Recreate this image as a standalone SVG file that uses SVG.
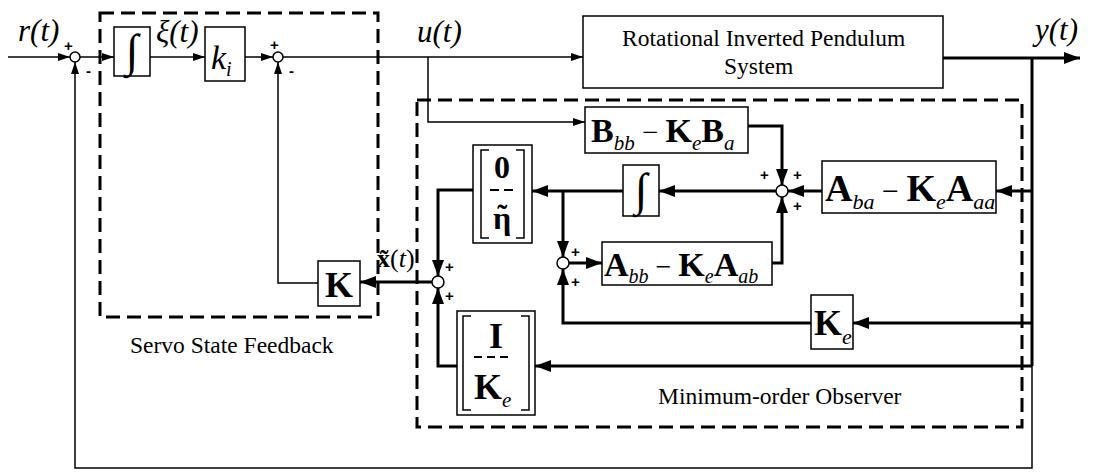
<svg xmlns="http://www.w3.org/2000/svg" width="1094" height="472" viewBox="0 0 1094 472">
<style>
.ln{fill:none;stroke:#000;stroke-width:1.5}
.tk{fill:none;stroke:#000;stroke-width:3}
.box{fill:#fff;stroke:#000;stroke-width:1.5}
.dash{fill:none;stroke:#000;stroke-width:3;stroke-dasharray:14 7}
.sum{fill:#fff;stroke:#000;stroke-width:1.5}
.lbl{font-family:"Liberation Serif","Times New Roman",serif;font-size:23.5px;fill:#000}
.math{font-family:"Liberation Serif","Times New Roman",serif;font-style:italic;font-size:31px;fill:#000}
.sg{font-family:"Liberation Sans",Arial,sans-serif;font-size:15px;font-weight:bold;fill:#000}
.mb{font-family:"Liberation Serif","Times New Roman",serif;font-weight:bold;fill:#000}
.mi{font-family:"Liberation Serif","Times New Roman",serif;font-style:italic;font-weight:normal}
.mr{font-family:"Liberation Serif","Times New Roman",serif;font-weight:normal;font-style:normal}
.brk{fill:none;stroke:#000;stroke-width:1.5}
</style>
<defs>
<marker id="as" viewBox="0 0 12 8" refX="12" refY="4" markerWidth="12" markerHeight="8" markerUnits="userSpaceOnUse" orient="auto"><path d="M0,0 L12,4 L0,8 z" fill="#000"/></marker>
<marker id="al" viewBox="0 0 16 12" refX="16" refY="6" markerWidth="16" markerHeight="12" markerUnits="userSpaceOnUse" orient="auto"><path d="M0,0 L16,6 L0,12 z" fill="#000"/></marker>
</defs>

<g id="frames">
<rect class="dash" x="100" y="13" width="278" height="304"/>
<rect class="dash" x="417" y="100" width="605" height="327"/>
<text class="lbl" x="130" y="353">Servo State Feedback</text>
<text class="lbl" x="658" y="404">Minimum-order Observer</text>
</g>

<g id="connectors">
<path class="ln" d="M8,57 H70" marker-end="url(#as)"/>
<path class="ln" d="M80,57 H114" marker-end="url(#as)"/>
<path class="ln" d="M150,57 H205" marker-end="url(#as)"/>
<path class="ln" d="M245,57 H273" marker-end="url(#as)"/>
<path class="ln" d="M283,57 H583" marker-end="url(#as)"/>
<path class="tk" d="M943,58 H1080" marker-end="url(#al)"/>
<path class="tk" d="M1032,58 V366"/>
<path class="ln" d="M1032,366 V468 H75 V62" marker-end="url(#as)"/>
<path class="ln" d="M428,57 V122 H585" marker-end="url(#as)"/>
<path class="tk" d="M748,126 H782 V185" marker-end="url(#al)"/>
<path class="tk" d="M1032,191 H996" marker-end="url(#al)"/>
<path class="tk" d="M822,191 H788" marker-end="url(#al)"/>
<path class="tk" d="M776,191 H659" marker-end="url(#al)"/>
<path class="tk" d="M623,191 H532" marker-end="url(#al)"/>
<path class="tk" d="M563,191 V257" marker-end="url(#al)"/>
<path class="tk" d="M569,263 H602" marker-end="url(#al)"/>
<path class="tk" d="M772,263 H782 V197" marker-end="url(#al)"/>
<path class="tk" d="M1032,323 H853" marker-end="url(#al)"/>
<path class="tk" d="M811,323 H563 V269" marker-end="url(#al)"/>
<path class="tk" d="M1032,366 H535" marker-end="url(#al)"/>
<path class="tk" d="M457,366 H438 V288" marker-end="url(#al)"/>
<path class="tk" d="M473,190 H438 V276" marker-end="url(#al)"/>
<path class="tk" d="M432,282 H360" marker-end="url(#al)"/>
<path class="ln" d="M318,283 H278 V62" marker-end="url(#as)"/>
</g>

<g id="labels">
<text class="math" x="18" y="41">r(t)</text>
<text class="math" x="156" y="42">ξ(t)</text>
<text class="math" x="417" y="42">u(t)</text>
<text class="math" x="1035" y="40">y(t)</text>
<text x="377" y="267" font-size="26"><tspan class="mb">x̃</tspan><tspan class="mr">(</tspan><tspan class="mi">t</tspan><tspan class="mr">)</tspan></text>
</g>

<g id="sum1"><circle class="sum" cx="75" cy="57" r="5"/><text class="sg" x="64" y="51">+</text><text class="sg" x="86" y="76">-</text></g>
<g id="sum2"><circle class="sum" cx="278" cy="57" r="5"/><text class="sg" x="270" y="50">+</text><text class="sg" x="289" y="76">-</text></g>
<g id="sum3"><circle class="sum" cx="438" cy="282" r="6"/><text class="sg" x="445" y="272">+</text><text class="sg" x="445" y="301">+</text></g>
<g id="sum4"><circle class="sum" cx="563" cy="263" r="6"/><text class="sg" x="571" y="257">+</text><text class="sg" x="571" y="287">+</text></g>
<g id="sum5"><circle class="sum" cx="782" cy="191" r="6"/><text class="sg" x="760" y="180">+</text><text class="sg" x="793" y="180">+</text><text class="sg" x="793" y="211">+</text></g>

<g id="integrator1"><rect class="box" x="114" y="27" width="36" height="49"/><text class="mr" x="132" y="66" font-size="46" text-anchor="middle">∫</text></g>
<g id="ki"><rect class="box" x="205" y="27" width="40" height="54"/><text x="211" y="69" font-size="34"><tspan class="mi">k</tspan><tspan class="mi" font-size="20" dy="7">i</tspan></text></g>
<g id="plant"><rect class="box" x="583" y="16" width="360" height="72"/><text class="lbl" x="622" y="46" font-size="24">Rotational Inverted Pendulum</text><text class="lbl" x="724" y="74" font-size="24">System</text></g>
<g id="K"><rect class="box" x="318" y="261" width="42" height="45"/><text class="mb" x="339" y="297" font-size="36" text-anchor="middle">K</text></g>

<g id="Bbb"><rect class="box" x="585" y="107" width="163" height="46"/>
<text x="591" y="142" font-size="34"><tspan class="mb">B</tspan><tspan class="mi" font-size="21" dy="8">bb</tspan><tspan class="mr" font-size="29" dy="-8"> − </tspan><tspan class="mb">K</tspan><tspan class="mi" font-size="21" dy="8">e</tspan><tspan class="mb" dy="-8">B</tspan><tspan class="mi" font-size="21" dy="8">a</tspan></text></g>

<g id="Aba"><rect class="box" x="822" y="161" width="174" height="52"/>
<text x="825" y="201" font-size="38"><tspan class="mb">A</tspan><tspan class="mi" font-size="22" dy="8">ba</tspan><tspan class="mr" font-size="30" dy="-8"> − </tspan><tspan class="mb">K</tspan><tspan class="mi" font-size="22" dy="8">e</tspan><tspan class="mb" dy="-8">A</tspan><tspan class="mi" font-size="22" dy="8">aa</tspan></text></g>

<g id="integrator2"><rect class="box" x="623" y="165" width="36" height="51"/><text class="mr" x="641" y="205" font-size="46" text-anchor="middle">∫</text></g>

<g id="zeroEta"><rect class="box" x="473" y="145" width="59" height="98"/>
<path class="brk" d="M489,150 H481 V238 H489 M516,150 H524 V238 H516"/>
<text class="mb" x="502" y="178" font-size="32" text-anchor="middle">0</text>
<path d="M490,190 H513" stroke="#000" stroke-width="2" stroke-dasharray="9 5"/>
<text class="mb" x="493" y="229" font-size="32">η<tspan dx="-14" dy="-4" font-size="30">˜</tspan></text></g>

<g id="Abb"><rect class="box" x="602" y="242" width="170" height="43"/>
<text x="604" y="276" font-size="34"><tspan class="mb">A</tspan><tspan class="mi" font-size="20" dy="7">bb</tspan><tspan class="mr" font-size="28" dy="-7"> − </tspan><tspan class="mb">K</tspan><tspan class="mi" font-size="20" dy="7">e</tspan><tspan class="mb" dy="-7">A</tspan><tspan class="mi" font-size="20" dy="7">ab</tspan></text></g>

<g id="Ke"><rect class="box" x="811" y="295" width="42" height="54"/>
<text x="814" y="335" font-size="36"><tspan class="mb">K</tspan><tspan class="mi" font-size="22" dy="9">e</tspan></text></g>

<g id="IKe"><rect class="box" x="457" y="311" width="78" height="104"/>
<path class="brk" d="M471,316 H463 V410 H471 M521,316 H529 V410 H521"/>
<text class="mb" x="496" y="348" font-size="36" text-anchor="middle">I</text>
<path d="M474,357 H513" stroke="#000" stroke-width="2" stroke-dasharray="8 5"/>
<text x="474" y="399" font-size="36"><tspan class="mb">K</tspan><tspan class="mi" font-size="21" dy="8">e</tspan></text></g>
</svg>
